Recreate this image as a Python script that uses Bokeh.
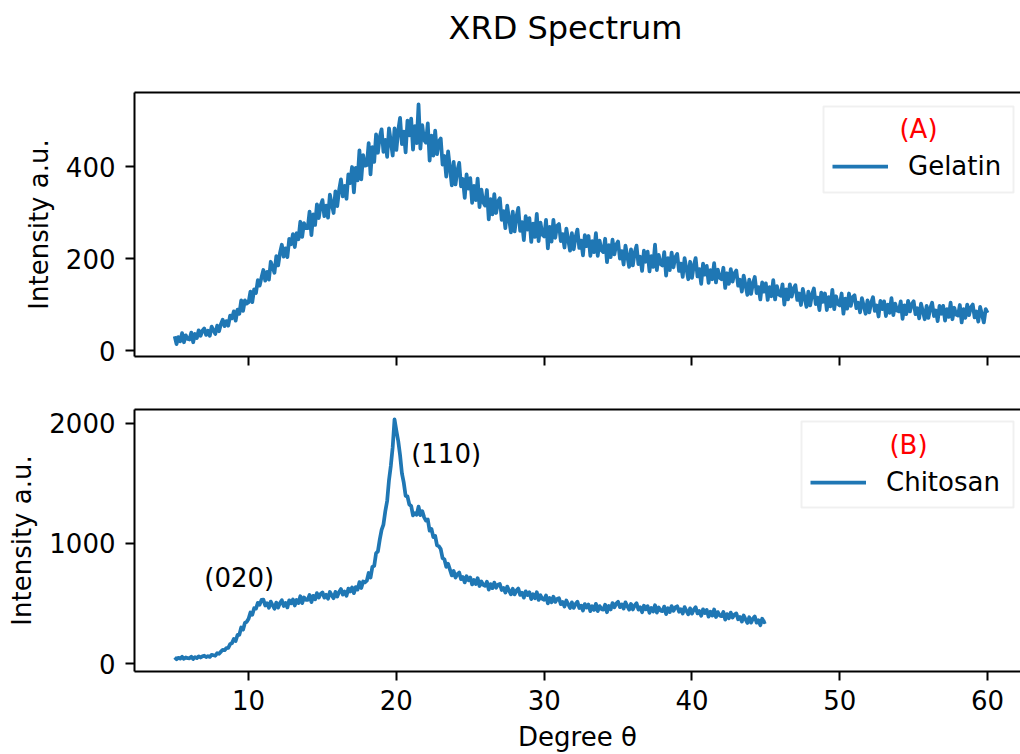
import numpy as np
from bokeh.plotting import figure
from bokeh.models import (Range1d, Legend, LegendItem, Label, FixedTicker,
                          LinearAxis, ColumnDataSource, BoxAnnotation)
from bokeh.layouts import column
from bokeh.embed import file_html
from bokeh.resources import INLINE

# ---------------- data ----------------
TITLE = "XRD Spectrum"
X_LABEL = "Degree θ"
Y_LABEL = "Intensity a.u."
x_ticks = [10, 20, 30, 40, 50, 60]
gel_y_ticks = [0, 200, 400]
chi_y_ticks = [0, 1000, 2000]
gel_name = "Gelatin"
gel_tag = "(A)"
chi_name = "Chitosan"
chi_tag = "(B)"

angle_start = 5.0
gel_step = 0.125
chi_step = 0.125

gelatin = [
    31, 14, 29, 20, 38, 18, 33, 25,
    24, 39, 18, 36, 27, 44, 32, 43,
    48, 34, 43, 32, 52, 44, 36, 54,
    42, 57, 67, 53, 64, 54, 76, 70,
    85, 65, 89, 80, 109, 86, 109, 102,
    105, 128, 105, 133, 125, 153, 141, 159,
    175, 152, 171, 154, 193, 181, 169, 205,
    185, 212, 230, 204, 222, 203, 243, 231,
    253, 225, 255, 242, 280, 247, 277, 266,
    266, 302, 251, 296, 273, 318, 288, 315,
    327, 292, 315, 289, 339, 319, 299, 346,
    314, 349, 372, 335, 358, 330, 383, 364,
    399, 344, 397, 370, 435, 372, 425, 402,
    403, 451, 383, 442, 410, 470, 430, 465,
    481, 432, 458, 421, 483, 454, 424, 483,
    436, 479, 506, 449, 476, 431, 500, 468,
    504, 437, 488, 451, 535, 439, 490, 458,
    452, 494, 413, 467, 424, 478, 427, 455,
    461, 404, 423, 378, 433, 396, 359, 410,
    361, 391, 408, 357, 373, 332, 383, 352,
    375, 321, 358, 327, 374, 312, 350, 322,
    315, 349, 285, 329, 296, 340, 299, 324,
    331, 284, 303, 266, 315, 286, 257, 302,
    259, 291, 310, 260, 279, 240, 292, 263,
    288, 236, 276, 247, 297, 238, 278, 252,
    248, 284, 222, 269, 237, 284, 245, 271,
    275, 238, 253, 224, 265, 241, 217, 255,
    220, 247, 263, 223, 239, 207, 251, 227,
    249, 206, 238, 214, 255, 206, 239, 218,
    214, 243, 192, 229, 203, 241, 209, 230,
    237, 200, 216, 187, 228, 205, 182, 220,
    185, 213, 228, 188, 204, 173, 217, 193,
    215, 172, 205, 182, 230, 175, 208, 188,
    185, 214, 163, 201, 175, 213, 181, 203,
    210, 173, 189, 160, 201, 178, 155, 193,
    158, 185, 201, 161, 177, 145, 189, 165,
    184, 147, 175, 155, 190, 148, 176, 158,
    155, 180, 136, 168, 145, 177, 150, 168,
    174, 141, 154, 128, 163, 142, 121, 154,
    123, 146, 160, 125, 138, 111, 148, 128,
    146, 110, 138, 118, 153, 111, 140, 122,
    119, 144, 100, 133, 111, 144, 117, 135,
    142, 110, 124, 99, 134, 114, 95, 128,
    98, 122, 135, 101, 115, 88, 126, 106,
    124, 88, 116, 96, 132, 90, 118, 101,
    98, 124, 80, 113, 91, 124, 97, 116,
    120, 92, 104, 83, 114, 97, 80, 109,
    83, 104, 116, 86, 98, 74, 108, 90,
    107, 75, 100, 82, 114, 77, 102, 87,
    85, 107, 69, 98, 79, 108, 85, 101,
    107, 79, 92, 70, 102, 85, 68, 97,
    71, 92, 104, 75, 87, 64, 97, 80,
    97, 65, 90, 73, 104, 68, 93, 78,
    76, 99, 61, 90, 71, 100, 77, 94,
    100, 72, 85, 63, 95, 78, 61, 90,
    82,
]

chitosan = [
    51, 36, 48, 41, 56, 39, 51, 45,
    44, 56, 38, 53, 45, 60, 50, 60,
    65, 54, 62, 55, 73, 69, 65, 86,
    81, 99, 114, 111, 129, 131, 161, 170,
    205, 187, 238, 239, 300, 282, 338, 347,
    372, 425, 405, 460, 457, 505, 490, 530,
    532, 483, 502, 464, 515, 485, 456, 507,
    465, 503, 527, 479, 504, 467, 526, 501,
    533, 483, 529, 503, 560, 503, 550, 529,
    529, 571, 511, 563, 534, 586, 549, 579,
    592, 548, 572, 539, 595, 568, 543, 596,
    557, 596, 620, 573, 599, 563, 623, 600,
    633, 586, 636, 615, 677, 628, 683, 675,
    689, 753, 715, 804, 812, 917, 933, 1031,
    1112, 1156, 1267, 1352, 1525, 1646, 1800, 2030,
    1935, 1851, 1732, 1582, 1504, 1395, 1391, 1323,
    1311, 1233, 1251, 1237, 1305, 1235, 1268, 1218,
    1189, 1198, 1105, 1119, 1052, 1062, 983, 976,
    952, 876, 867, 804, 830, 781, 733, 770,
    715, 743, 757, 702, 719, 675, 726, 693,
    716, 658, 696, 662, 710, 645, 683, 654,
    646, 681, 615, 661, 627, 673, 631, 655,
    662, 612, 629, 590, 640, 607, 576, 622,
    575, 607, 624, 571, 590, 548, 601, 569,
    593, 536, 576, 543, 593, 529, 568, 539,
    531, 566, 500, 545, 510, 556, 513, 537,
    544, 494, 512, 474, 525, 493, 462, 509,
    463, 496, 514, 462, 482, 441, 495, 465,
    491, 436, 477, 446, 497, 436, 478, 453,
    449, 489, 427, 479, 450, 503, 468, 499,
    514, 469, 492, 457, 509, 478, 448, 496,
    450, 483, 502, 449, 469, 427, 481, 451,
    477, 422, 463, 433, 485, 424, 466, 440,
    436, 474, 411, 460, 428, 478, 439, 467,
    477, 431, 452, 416, 469, 439, 410, 459,
    415, 449, 469, 417, 438, 397, 451, 420,
    446, 390, 431, 399, 450, 387, 428, 400,
    394, 430, 365, 411, 377, 424, 383, 408,
    417, 368, 387, 349, 400, 368, 338, 385,
    340, 373, 392, 340, 360, 319, 373, 344,
    350,
]

peak_labels = ["(020)", "(110)"]
peak_label_x = [7, 21]
peak_label_y = [710, 1740]

# ---------------- style ----------------
FONT = "DejaVu Sans"
BLUE = "#1f77b4"
FS = "26px"

gel_x = angle_start + gel_step * np.arange(len(gelatin))
chi_x = angle_start + chi_step * np.arange(len(chitosan))

xr = Range1d(2.28, 62.23)


def make_fig(height, yr, border_top, border_bottom, yticks, show_xlabels, top_pad):
    p = figure(width=1020, height=height, x_range=xr, y_range=yr,
               min_border_left=134, min_border_right=0,
               min_border_top=border_top, min_border_bottom=border_bottom,
               toolbar_location=None, output_backend="svg")
    p.xgrid.visible = False
    p.ygrid.visible = False
    p.outline_line_color = None
    p.background_fill_color = "white"
    p.border_fill_color = "white"
    for ax in (p.below[0], p.left[0]):
        ax.axis_line_width = 2
        ax.axis_line_color = "black"
        ax.major_tick_line_width = 2
        ax.major_tick_line_color = "black"
        ax.major_tick_out = 9
        ax.major_tick_in = 0
        ax.minor_tick_line_color = None
        ax.major_label_text_font = FONT
        ax.major_label_text_font_size = FS
        ax.major_label_text_color = "black"
        ax.axis_label_text_font = FONT
        ax.axis_label_text_font_size = FS
        ax.axis_label_text_font_style = "normal"
        ax.axis_label_text_color = "black"
    p.below[0].ticker = FixedTicker(ticks=x_ticks)
    p.left[0].ticker = FixedTicker(ticks=yticks)
    p.left[0].major_label_standoff = 10
    p.left[0].axis_label = Y_LABEL
    p.left[0].axis_label_standoff = 9
    if show_xlabels:
        p.below[0].major_label_standoff = 9
        p.below[0].axis_label = X_LABEL
        p.below[0].axis_label_standoff = 9
    else:
        p.below[0].major_label_text_color = None
        p.below[0].major_label_text_font_size = "1px"
        p.below[0].major_label_standoff = 0
    # top spine; its invisible ticks also act as a spacer under the title
    top = LinearAxis(ticker=FixedTicker(ticks=x_ticks if top_pad else []),
                     axis_line_width=2, axis_line_color="black",
                     major_tick_out=top_pad, major_tick_in=0,
                     major_tick_line_color=None, minor_tick_line_color=None,
                     major_label_text_color=None, major_label_text_font_size="1px",
                     major_label_standoff=0)
    p.add_layout(top, "above")
    return p


def add_legend(p, renderer, name, tag, item_x, item_y, box, tag_xy):
    # legend frame
    p.add_layout(BoxAnnotation(left=box[0], right=box[1], bottom=box[2], top=box[3],
                               left_units="screen", right_units="screen",
                               bottom_units="screen", top_units="screen",
                               fill_color=None, line_color="#cccccc", line_width=2,
                               editable=False))
    leg = Legend(items=[LegendItem(label=name, renderers=[renderer])],
                 location=(item_x, item_y),
                 padding=0, spacing=0, margin=0,
                 label_standoff=20, glyph_width=56, glyph_height=32, label_height=32,
                 label_text_font=FONT, label_text_font_size=FS, label_text_color="black",
                 border_line_color=None, background_fill_alpha=0)
    p.add_layout(leg)
    p.add_layout(Label(x=tag_xy[0], y=tag_xy[1], x_units="screen", y_units="screen",
                       text=tag, text_color="red", text_font=FONT, text_font_size=FS,
                       text_align="center", text_baseline="middle"))


# ---------------- top: gelatin ----------------
p1 = make_fig(382, Range1d(-13, 561), 92, 26, gel_y_ticks, False, 41)
p1.title.text = TITLE
p1.title.text_font = FONT
p1.title.text_font_size = "32px"
p1.title.text_font_style = "normal"
p1.title.text_color = "black"
p1.title.align = "left"
p1.title.offset = 314
p1.title.standoff = 10

src1 = ColumnDataSource(dict(x=gel_x, y=gelatin))
r1 = p1.line("x", "y", source=src1, line_width=3.75, line_color=BLUE, line_join="round")
add_legend(p1, r1, gel_name, gel_tag, 698, 174, (689, 879, 164, 250), (784, 228))

# ---------------- bottom: chitosan ----------------
p2 = make_fig(372, Range1d(-66, 2113), 27, 82, chi_y_ticks, True, 0)
src2 = ColumnDataSource(dict(x=chi_x, y=chitosan))
r2 = p2.line("x", "y", source=src2, line_width=3.75, line_color=BLUE, line_join="round")
add_legend(p2, r2, chi_name, chi_tag, 676, 173, (667, 879, 164, 250), (774, 227))
for t, lx, ly in zip(peak_labels, peak_label_x, peak_label_y):
    p2.add_layout(Label(x=lx, y=ly, text=t, text_color="black", text_font=FONT,
                        text_font_size=FS, text_align="left",
                        text_baseline="alphabetic"))

layout = column(p1, p2, spacing=0)
open("out.html", "w").write(file_html(layout, INLINE))
